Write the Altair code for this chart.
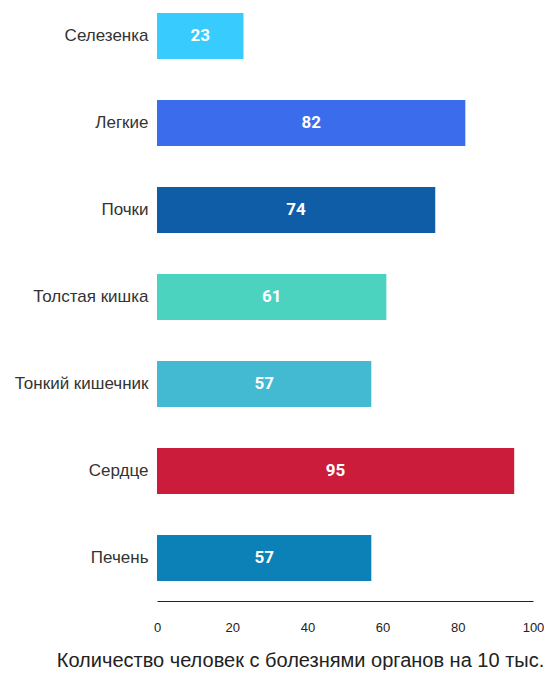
import altair as alt
import pandas as pd

organs = ["Селезенка", "Легкие", "Почки", "Толстая кишка", "Тонкий кишечник", "Сердце", "Печень"]
values = [23, 82, 74, 61, 57, 95, 57]
colors = ["#38CBFD", "#3B6CEB", "#0E5DA6", "#4BD3C0", "#44B9D2", "#CC1C3C", "#0C81B7"]
x_ticks = [0, 20, 40, 60, 80, 100]

df = pd.DataFrame({"organ": organs, "value": values})

y_enc = alt.Y(
    "organ:N",
    sort=organs,
    scale=alt.Scale(paddingInner=0.4713, paddingOuter=0.1437, align=0.2),
    axis=alt.Axis(
        title=None, domain=False, ticks=False, tickSize=0, labelPadding=9,
        labelFont="Liberation Sans", labelFontSize=17, labelColor="#333333",
    ),
)

bars = alt.Chart(df).mark_bar().encode(
    x=alt.X(
        "value:Q",
        scale=alt.Scale(domain=[0, 100], nice=False),
        axis=alt.Axis(
            values=x_ticks, grid=False, ticks=False, tickSize=0, labelPadding=20,
            labelFlush=False,
            labelFont="Liberation Sans", labelFontSize=13, labelColor="#222222",
            domainColor="#222222", domainWidth=1,
            title="Количество человек с болезнями органов на 10 тыс.",
            titleFont="Liberation Sans", titleFontSize=20, titleFontWeight="normal",
            titleColor="#222222", titleX=143, titleY=65, titleAlign="center",
            titleAnchor="start", titleBaseline="alphabetic",
        ),
    ),
    y=y_enc,
    color=alt.Color("organ:N", scale=alt.Scale(domain=organs, range=colors), legend=None),
)

text = alt.Chart(df).transform_calculate(half="datum.value / 2").mark_text(
    font="Roboto", fontSize=17, fontWeight="bold", color="white", baseline="middle", align="center"
).encode(
    x=alt.X("half:Q"),
    y=alt.Y("organ:N", sort=organs),
    text=alt.Text("value:Q"),
)

chart = alt.layer(bars, text).properties(
    width=376, height=593,
    autosize=alt.AutoSizeParams(type="none"),
    padding={"left": 149, "top": 0, "right": 11, "bottom": 69},
).configure_view(stroke=None)

chart.save("out.html", embed_options={"renderer": "svg", "actions": False})
